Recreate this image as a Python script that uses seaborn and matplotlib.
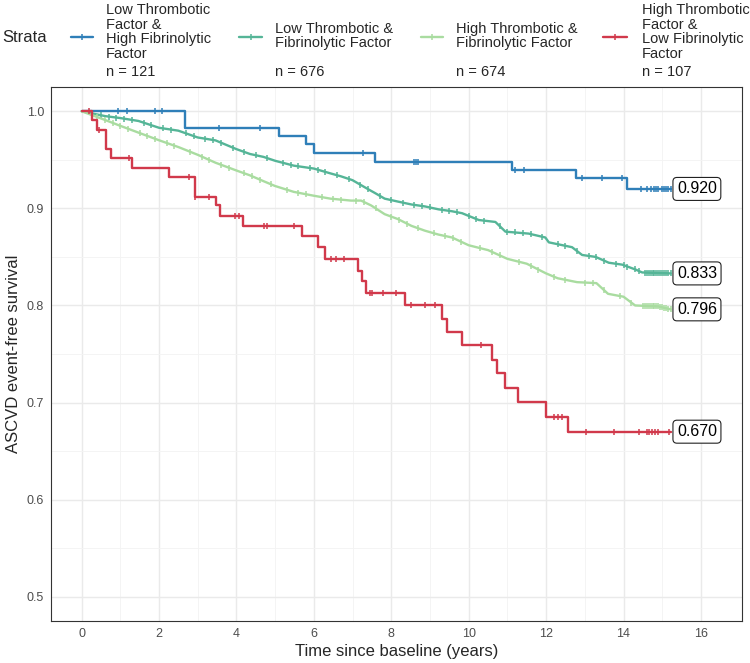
import numpy as np
import pandas as pd
import seaborn as sns
import matplotlib.pyplot as plt
from matplotlib.lines import Line2D

# Kaplan-Meier curves (time in years, survival)
blue_time = [0.0, 2.66, 5.09, 5.81, 6.00, 7.58, 11.12, 12.76, 14.09, 15.22]
blue_surv = [1.0, 0.983, 0.975, 0.966, 0.957, 0.948, 0.940, 0.931, 0.920, 0.920]
blue_censor = [0.95, 1.17, 1.90, 2.07, 3.54, 4.62, 7.26, 8.60, 8.65, 8.70, 11.20,
               11.42, 12.93, 13.45, 13.97, 14.45, 14.60, 14.70, 14.78, 14.85, 14.90,
               15.00, 15.05, 15.10, 15.16, 15.22]

red_time = [0.0, 0.26, 0.39, 0.63, 0.75, 1.30, 2.27, 2.92, 3.48, 3.57, 4.17, 5.70,
            6.11, 6.30, 7.14, 7.24, 7.35, 8.36, 9.31, 9.44, 9.84, 10.60, 10.73,
            10.93, 11.28, 12.00, 12.56, 15.22]
red_surv = [1.0, 0.991, 0.981, 0.961, 0.952, 0.942, 0.932, 0.912, 0.903, 0.892,
            0.882, 0.872, 0.860, 0.848, 0.836, 0.825, 0.813, 0.800, 0.786, 0.773,
            0.759, 0.744, 0.730, 0.715, 0.701, 0.685, 0.670, 0.670]
red_censor = [0.20, 0.45, 1.22, 2.77, 2.94, 3.28, 3.97, 4.06, 4.70, 4.78, 5.49, 6.45,
              6.58, 6.79, 7.44, 7.50, 7.79, 8.13, 8.50, 8.88, 9.12, 10.32, 12.20,
              12.30, 12.41, 13.02, 13.75, 14.40, 14.60, 14.65, 14.74, 14.82, 14.90,
              15.17]

mid_time = [0.0, 0.61, 1.00, 1.47, 2.00, 2.50, 3.00, 3.46, 4.00, 4.35, 4.70, 5.00,
            5.48, 6.00, 6.43, 6.70, 7.00, 7.39, 7.57, 7.83, 8.17, 8.52, 8.87, 9.22,
            9.57, 9.83, 10.26, 10.69, 10.95, 11.55, 11.98, 12.07, 12.67, 12.93,
            13.28, 13.62, 13.97, 14.31, 14.48, 15.22]
mid_surv = [1.0, 0.995, 0.993, 0.990, 0.983, 0.980, 0.973, 0.970, 0.961, 0.956,
            0.953, 0.949, 0.944, 0.941, 0.936, 0.933, 0.929, 0.920, 0.916, 0.910,
            0.907, 0.904, 0.902, 0.899, 0.897, 0.895, 0.888, 0.886, 0.876, 0.874,
            0.870, 0.865, 0.860, 0.852, 0.850, 0.844, 0.842, 0.837, 0.834, 0.833]
mid_censor = [0.5, 0.7, 0.9, 1.1, 1.3, 1.6, 1.8, 2.1, 2.3, 2.7, 2.9, 3.2, 3.4, 3.6,
              3.9, 4.2, 4.5, 4.8, 5.2, 5.4, 5.6, 5.9, 6.1, 6.3, 6.6, 6.9, 7.2, 7.4,
              7.7, 8.0, 8.3, 8.6, 8.8, 9.0, 9.3, 9.5, 9.7, 10.0, 10.2, 10.4, 10.8,
              11.0, 11.2, 11.4, 11.6, 11.9, 12.3, 12.5, 12.8, 13.1, 13.3, 13.5, 13.8,
              14.0, 14.1, 14.3, 14.4, 14.55, 14.6, 14.65, 14.7, 14.75, 14.8, 14.85,
              14.9, 14.95, 15.0, 15.05, 15.1, 15.15, 15.22]

light_time = [0.0, 0.61, 1.00, 1.47, 2.01, 2.51, 3.01, 3.46, 4.00, 4.35, 4.70, 5.00,
              5.48, 6.00, 6.43, 6.96, 7.22, 7.48, 7.83, 8.17, 8.52, 8.87, 9.22, 9.57,
              10.0, 10.5, 11.0, 11.5, 12.0, 12.3, 12.8, 13.3, 13.6, 14.0, 14.3,
              14.9, 15.22]
light_surv = [1.0, 0.991, 0.985, 0.978, 0.970, 0.963, 0.955, 0.947, 0.939, 0.934,
              0.928, 0.923, 0.917, 0.913, 0.910, 0.908, 0.908, 0.903, 0.894, 0.889,
              0.882, 0.877, 0.873, 0.870, 0.862, 0.857, 0.848, 0.843, 0.833, 0.828,
              0.824, 0.823, 0.812, 0.809, 0.800, 0.799, 0.796]
light_censor = [0.4, 0.6, 0.8, 1.0, 1.2, 1.5, 1.7, 1.9, 2.2, 2.4, 2.8, 3.1, 3.3, 3.6,
                3.8, 4.2, 4.4, 4.6, 4.9, 5.3, 5.6, 5.8, 6.2, 6.5, 6.7, 7.1, 7.3, 7.6,
                8.0, 8.2, 8.4, 8.7, 9.1, 9.4, 9.6, 9.8, 10.3, 10.6, 10.8, 11.3, 11.6,
                11.8, 12.2, 12.5, 13.0, 13.2, 13.5, 13.9, 14.2, 14.5, 14.55, 14.6,
                14.65, 14.7, 14.75, 14.8, 14.85, 14.9, 14.95, 15.0, 15.05, 15.1,
                15.15, 15.22]

strata_labels = ["Low Thrombotic\nFactor &\nHigh Fibrinolytic\nFactor",
                 "Low Thrombotic &\nFibrinolytic Factor",
                 "High Thrombotic &\nFibrinolytic Factor",
                 "High Thrombotic\nFactor &\nLow Fibrinolytic\nFactor"]
strata_n = [121, 676, 674, 107]
colors = ["#2F7FB8", "#55B597", "#A9DCA0", "#D1394B"]

curves = [
    (blue_time, blue_surv, blue_censor, True),
    (mid_time, mid_surv, mid_censor, False),
    (light_time, light_surv, light_censor, False),
    (red_time, red_surv, red_censor, True),
]

sns.set_theme(style='white')
plt.rcParams['font.family'] = ['Liberation Sans', 'DejaVu Sans']

fig = plt.figure(figsize=(7.5, 6.63), dpi=100)
ax = fig.add_axes([0.068, 0.0633, 0.9213, 0.8055])

for idx in range(4):
    t, s, cens, is_step = curves[idx]
    df = pd.DataFrame({'time': t, 'surv': s})
    sns.lineplot(data=df, x='time', y='surv', ax=ax, color=colors[idx], lw=1.7,
                 drawstyle='steps-post' if is_step else 'default', legend=False)
    cens = np.array(cens)
    if is_step:
        pos = np.searchsorted(t, cens, side='right') - 1
        cy = np.array(s)[pos]
    else:
        cy = np.interp(cens, t, s)
    ax.plot(cens, cy, ls='none', marker='|', ms=5, mew=1.1, color=colors[idx])

# end-of-follow-up labels
for idx in range(4):
    t, s, _, _ = curves[idx]
    ax.text(t[-1] + 0.16, s[-1], f"{s[-1]:.3f}", fontsize=11.5, ha='left',
            va='center', color='black',
            bbox=dict(boxstyle='round,pad=0.25,rounding_size=0.25', fc='white',
                      ec='#222222', lw=0.8))

ax.set_xlim(-0.79, 17.06)
ax.set_ylim(0.475, 1.025)
ax.set_xticks(np.arange(0, 17, 2))
ax.set_xticks(np.arange(1, 17, 2), minor=True)
ax.set_yticks([0.5, 0.6, 0.7, 0.8, 0.9, 1.0])
ax.set_yticks([0.55, 0.65, 0.75, 0.85, 0.95], minor=True)
ax.set_yticklabels(['0.5', '0.6', '0.7', '0.8', '0.9', '1.0'])
ax.grid(which='major', color='#EAEAEA', lw=1.0)
ax.grid(which='minor', color='#F3F3F3', lw=0.6)
ax.set_axisbelow(True)
ax.tick_params(which='major', length=3, width=0.8, color='#333333',
               labelcolor='#4D4D4D', labelsize=9, pad=2)
ax.tick_params(which='minor', length=0)
for sp in ax.spines.values():
    sp.set_color('#333333')
    sp.set_linewidth(0.8)
ax.set_xlabel('Time since baseline (years)', fontsize=12, labelpad=3)
ax.set_ylabel('ASCVD event-free survival', fontsize=12, labelpad=4)

# legend on top
W, H = 750, 663
fig.text(2 / W, 1 - 37 / H, 'Strata', fontsize=12, ha='left', va='center')
key_x = [(71, 93), (239, 262), (421, 443), (603, 627)]
text_x = [106, 275, 456, 642]
text_y = [32, 36, 36, 32]
for i in range(4):
    x0, x1 = key_x[i]
    fig.add_artist(Line2D([x0 / W, x1 / W], [1 - 37 / H, 1 - 37 / H], color=colors[i],
                          lw=1.7, transform=fig.transFigure))
    fig.add_artist(Line2D([(x0 + x1) / 2 / W], [1 - 37 / H], color=colors[i],
                          marker='|', ms=5, mew=1.1, ls='none',
                          transform=fig.transFigure))
    fig.text(text_x[i] / W, 1 - text_y[i] / H, strata_labels[i], fontsize=10.5,
             ha='left', va='center', linespacing=1.08)
    fig.text(text_x[i] / W, 1 - 72 / H, f"n = {strata_n[i]}", fontsize=10.5,
             ha='left', va='center')

fig.savefig('out.png', dpi=100)
